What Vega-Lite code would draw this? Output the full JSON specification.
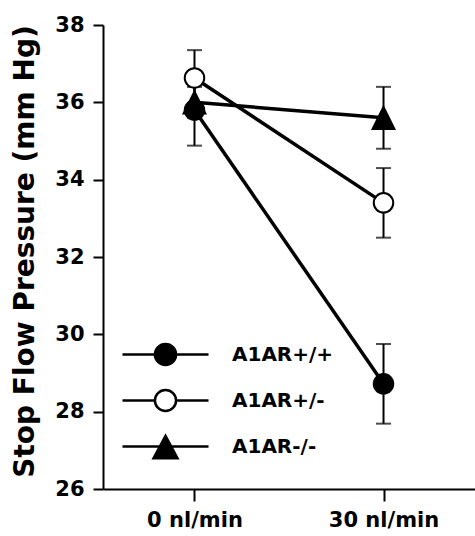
{
  "$schema": "https://vega.github.io/schema/vega-lite/v6.json",
  "width": 372,
  "height": 464,
  "autosize": {"type": "none"},
  "padding": {"left": 103, "top": 25, "right": 0, "bottom": 47},
  "background": "white",
  "data": {
    "values": [
      {"rate": "0 nl/min", "genotype": "A1AR+/+", "mean": 35.8, "se": 0.92},
      {"rate": "30 nl/min", "genotype": "A1AR+/+", "mean": 28.72, "se": 1.03},
      {"rate": "0 nl/min", "genotype": "A1AR+/-", "mean": 36.63, "se": 0.72},
      {"rate": "30 nl/min", "genotype": "A1AR+/-", "mean": 33.4, "se": 0.9},
      {"rate": "0 nl/min", "genotype": "A1AR-/-", "mean": 36.0, "se": 0.4},
      {"rate": "30 nl/min", "genotype": "A1AR-/-", "mean": 35.6, "se": 0.8}
    ]
  },
  "encoding": {
    "x": {
      "field": "rate",
      "type": "ordinal",
      "sort": ["0 nl/min", "30 nl/min"],
      "scale": {"type": "point", "padding": 0.484},
      "axis": {
        "title": null,
        "labelAngle": 0,
        "labelFont": "DejaVu Sans",
        "labelFontSize": 21,
        "labelFontWeight": "bold",
        "labelPadding": 8,
        "tickSize": 12
      }
    },
    "y": {
      "field": "mean",
      "type": "quantitative",
      "scale": {"domain": [26, 38], "nice": false, "zero": false},
      "axis": {
        "values": [26, 28, 30, 32, 34, 36, 38],
        "title": "Stop Flow Pressure (mm Hg)",
        "titleFont": "DejaVu Sans",
        "titleFontSize": 28,
        "titleFontWeight": "bold",
        "titleX": -70,
        "titleY": 226,
        "titleAngle": -90,
        "titleAlign": "center",
        "titleBaseline": "alphabetic",
        "labelFont": "DejaVu Sans",
        "labelFontSize": 21,
        "labelFontWeight": "bold",
        "labelPadding": 9,
        "tickSize": 10
      }
    }
  },
  "layer": [
    {
      "mark": {
        "type": "errorbar",
        "ticks": {"size": 15, "thickness": 2, "color": "black"},
        "rule": {"strokeWidth": 2, "color": "black"}
      },
      "encoding": {
        "y": {"field": "mean", "type": "quantitative"},
        "yError": {"field": "se"},
        "detail": {"field": "genotype"}
      }
    },
    {
      "mark": {"type": "line", "color": "black", "strokeWidth": 3.5},
      "encoding": {
        "detail": {"field": "genotype"}
      }
    },
    {
      "mark": {"type": "point", "stroke": "black", "strokeWidth": 2, "size": 380, "opacity": 1},
      "encoding": {
        "shape": {
          "field": "genotype",
          "scale": {
            "domain": ["A1AR+/+", "A1AR+/-", "A1AR-/-"],
            "range": ["circle", "circle", "M0,-1.12L1.12,1.15L-1.12,1.15Z"]
          },
          "legend": null
        },
        "fill": {
          "field": "genotype",
          "scale": {
            "domain": ["A1AR+/+", "A1AR+/-", "A1AR-/-"],
            "range": ["black", "white", "black"]
          },
          "legend": null
        }
      }
    },
    {
      "mark": {"type": "point", "stroke": "black", "strokeWidth": 2.5, "size": 529, "opacity": 0},
      "encoding": {
        "shape": {
          "field": "genotype",
          "scale": {
            "domain": ["A1AR+/+", "A1AR+/-", "A1AR-/-"],
            "range": [
              "M-3.74,0H-0.92M0.92,0H3.74M-0.92,0A0.92,0.92 0 1,0 0.92,0A0.92,0.92 0 1,0 -0.92,0Z",
              "M-3.74,0H-0.92M0.92,0H3.74M-0.92,0A0.92,0.92 0 1,0 0.92,0A0.92,0.92 0 1,0 -0.92,0Z",
              "M-3.74,0H3.74M0,-0.93L1.04,1.02L-1.04,1.02Z"
            ]
          },
          "legend": {
            "orient": "none",
            "legendX": 49.5,
            "legendY": 316.5,
            "title": null,
            "padding": 0,
            "rowPadding": 14,
            "labelOffset": 53.5,
            "symbolSize": 529,
            "symbolStrokeWidth": 2.5,
            "symbolStrokeColor": "black",
            "symbolOpacity": 1,
            "labelFont": "DejaVu Sans",
            "labelFontSize": 20,
            "labelFontWeight": "bold",
            "labelColor": "black",
            "encode": {
              "symbols": {
                "update": {
                  "stroke": {"value": "black"},
                  "strokeWidth": {"value": 2.5},
                  "opacity": {"value": 1}
                }
              }
            }
          }
        },
        "fill": {
          "field": "genotype",
          "scale": {
            "domain": ["A1AR+/+", "A1AR+/-", "A1AR-/-"],
            "range": ["black", "white", "black"]
          },
          "legend": {
            "orient": "none",
            "legendX": 49.5,
            "legendY": 316.5,
            "title": null,
            "padding": 0,
            "rowPadding": 14,
            "labelOffset": 53.5,
            "symbolSize": 529,
            "symbolStrokeWidth": 2.5,
            "symbolStrokeColor": "black",
            "symbolOpacity": 1,
            "labelFont": "DejaVu Sans",
            "labelFontSize": 20,
            "labelFontWeight": "bold",
            "labelColor": "black",
            "encode": {
              "symbols": {
                "update": {
                  "stroke": {"value": "black"},
                  "strokeWidth": {"value": 2.5},
                  "opacity": {"value": 1}
                }
              }
            }
          }
        }
      }
    }
  ],
  "resolve": {
    "scale": {"shape": "independent", "fill": "independent"},
    "legend": {"shape": "independent", "fill": "independent"}
  },
  "config": {
    "view": {"stroke": null},
    "axis": {
      "domainColor": "black",
      "domainWidth": 2,
      "tickColor": "black",
      "tickWidth": 2,
      "labelColor": "black",
      "titleColor": "black",
      "grid": false
    }
  }
}
